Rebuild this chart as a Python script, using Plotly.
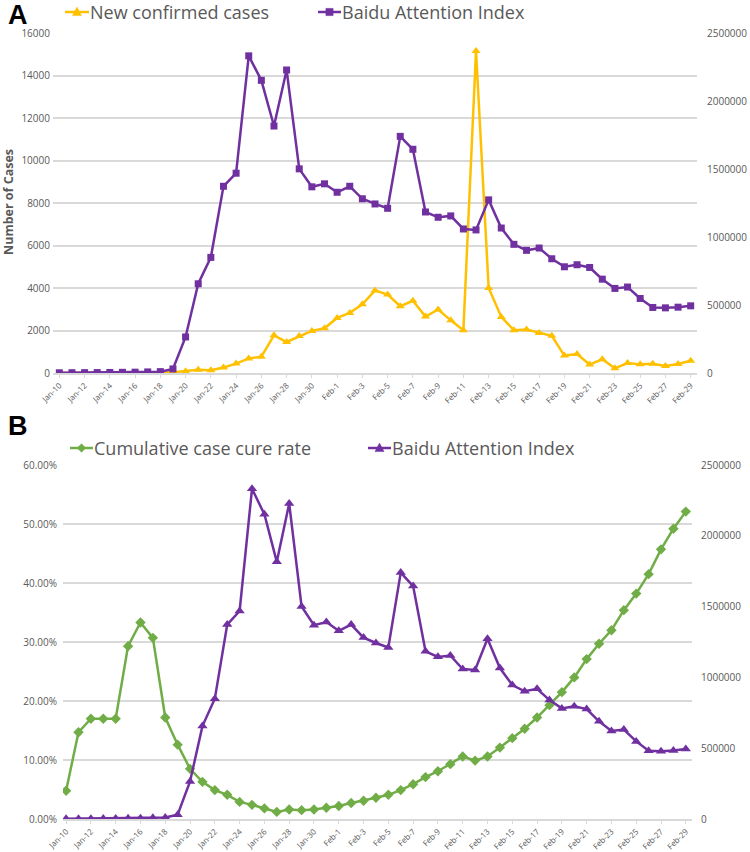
import plotly.graph_objects as go
from plotly.subplots import make_subplots

# ---- categories ----
dates = [f"Jan-{d}" for d in range(10, 32)] + [f"Feb-{d}" for d in range(1, 30)]

# ---- Panel A: new confirmed cases (left axis) ----
new_cases = [0, 0, 0, 0, 0, 0, 4, 17, 30, 40,
             77, 149, 131, 259, 444, 688, 769, 1771, 1459, 1737,
             1982, 2102, 2590, 2829, 3235, 3887, 3694, 3143, 3399, 2656,
             2987, 2478, 2015, 15152, 4000, 2641, 2009, 2048, 1886, 1749,
             820, 889, 397, 648, 220, 470, 406, 433, 327, 427, 573]

# ---- Baidu Attention Index (right axis, both panels) ----
baidu = [1500, 2000, 2500, 3000, 4000, 5000, 6000, 8000, 10000, 30000,
         265000, 656000, 850000, 1373000, 1469000, 2332000, 2152000, 1816000, 2228000, 1501000,
         1369000, 1391000, 1329000, 1373000, 1281000, 1243000, 1211000, 1740000, 1645000, 1184000,
         1145000, 1155000, 1059000, 1052000, 1273000, 1066000, 946000, 902000, 919000, 840000,
         781000, 796000, 776000, 690000, 622000, 632000, 548000, 482000, 479000, 484000, 494000]

# ---- Panel B: cumulative case cure rate (left axis) ----
cure_rate = [0.048, 0.147, 0.170, 0.170, 0.170, 0.293, 0.333, 0.307, 0.172, 0.126,
             0.085, 0.063, 0.049, 0.041, 0.029, 0.024, 0.018, 0.012, 0.016, 0.015,
             0.016, 0.019, 0.022, 0.027, 0.031, 0.036, 0.041, 0.049, 0.059, 0.071,
             0.081, 0.093, 0.106, 0.099, 0.106, 0.121, 0.137, 0.153, 0.172, 0.193,
             0.215, 0.240, 0.271, 0.297, 0.320, 0.354, 0.382, 0.415, 0.457, 0.492, 0.521]

tick_dates = dates[::2]

YELLOW = "#FFC000"
PURPLE = "#7030A0"
GREEN = "#70AD47"
GRID = "#D9D9D9"
TXT = "#595959"
FONT = "Open Sans"

W, H = 750, 852

fig = make_subplots(rows=2, cols=1, specs=[[{"secondary_y": True}], [{"secondary_y": True}]])

fig.add_trace(go.Scatter(x=dates, y=new_cases, name="New confirmed cases", mode="lines+markers",
                         line=dict(color=YELLOW, width=2.5),
                         marker=dict(symbol="triangle-up", size=8, color=YELLOW)),
              row=1, col=1, secondary_y=False)
fig.add_trace(go.Scatter(x=dates, y=baidu, name="Baidu Attention Index", mode="lines+markers",
                         line=dict(color=PURPLE, width=2.5),
                         marker=dict(symbol="square", size=7, color=PURPLE)),
              row=1, col=1, secondary_y=True)
fig.add_trace(go.Scatter(x=dates, y=cure_rate, name="Cumulative case cure rate", mode="lines+markers",
                         line=dict(color=GREEN, width=2.5),
                         marker=dict(symbol="diamond", size=8, color=GREEN)),
              row=2, col=1, secondary_y=False)
fig.add_trace(go.Scatter(x=dates, y=baidu, name="Baidu Attention Index", mode="lines+markers",
                         line=dict(color=PURPLE, width=2.5),
                         marker=dict(symbol="triangle-up", size=9, color=PURPLE)),
              row=2, col=1, secondary_y=True)


def px_x(p):
    return p / W


def px_y(p):
    return 1 - p / H


xA = [px_x(53), px_x(697)]
xB = [px_x(63), px_x(692)]
yA = [px_y(373), px_y(33)]
yB = [px_y(819), px_y(465)]

xcommon = dict(type="category", tickmode="array", tickvals=tick_dates, ticktext=tick_dates,
               tickangle=-45, tickfont=dict(family=FONT, size=8, color=TXT),
               showline=True, linecolor=GRID, linewidth=1.5, ticks="outside", tickcolor=GRID,
               ticklen=3, showgrid=False, zeroline=False, automargin=False)

yfont = dict(family=FONT, size=10, color=TXT)
fig.update_layout(
    xaxis=dict(domain=xA, range=[-0.5, 50.5], **xcommon),
    xaxis2=dict(domain=xB, range=[-0.25, 50.5], **xcommon),
    yaxis=dict(domain=yA, range=[0, 16000], dtick=2000, tickformat="d",
               showgrid=True, gridcolor=GRID, gridwidth=1.5, zeroline=False, showline=False,
               tickfont=yfont, ticks="", automargin=False, ticklabelstandoff=2),
    yaxis2=dict(domain=yA, range=[0, 2500000], dtick=500000, tickformat="d",
                showgrid=False, zeroline=False, showline=False,
                tickfont=yfont, ticks="", automargin=False, ticklabelstandoff=9),
    yaxis3=dict(domain=yB, range=[0, 0.6], dtick=0.1, tickformat=".2%",
                showgrid=True, gridcolor=GRID, gridwidth=1.5, zeroline=False, showline=False,
                tickfont=yfont, ticks="", automargin=False, ticklabelstandoff=5),
    yaxis4=dict(domain=yB, range=[0, 2500000], dtick=500000, tickformat="d",
                showgrid=False, zeroline=False, showline=False,
                tickfont=yfont, ticks="", automargin=False, ticklabelstandoff=8),
)

# ---- hand-drawn legends (line sample + marker glyph + label) ----
shapes = []
annotations = []


def legend_entry(x0, x1, y, color, symbol, label, text_x):
    shapes.append(dict(type="line", xref="paper", yref="paper",
                       x0=px_x(x0), x1=px_x(x1), y0=px_y(y), y1=px_y(y),
                       line=dict(color=color, width=2.5)))
    cx = (x0 + x1) / 2
    if symbol == "triangle":
        s = 4.5
        path = (f"M {px_x(cx - s)} {px_y(y + s * 0.8)} L {px_x(cx + s)} {px_y(y + s * 0.8)} "
                f"L {px_x(cx)} {px_y(y - s * 1.1)} Z")
    elif symbol == "square":
        s = 3.6
        path = (f"M {px_x(cx - s)} {px_y(y - s)} L {px_x(cx + s)} {px_y(y - s)} "
                f"L {px_x(cx + s)} {px_y(y + s)} L {px_x(cx - s)} {px_y(y + s)} Z")
    else:
        s = 4.3
        path = (f"M {px_x(cx - s)} {px_y(y)} L {px_x(cx)} {px_y(y - s)} "
                f"L {px_x(cx + s)} {px_y(y)} L {px_x(cx)} {px_y(y + s)} Z")
    shapes.append(dict(type="path", xref="paper", yref="paper", path=path,
                       fillcolor=color, line=dict(color=color, width=0.5)))
    annotations.append(dict(text=label, x=px_x(text_x), y=px_y(y), xref="paper", yref="paper",
                            xanchor="left", yanchor="middle", showarrow=False,
                            font=dict(family=FONT, size=18, color=TXT)))


legend_entry(65, 89, 12, YELLOW, "triangle", "New confirmed cases", 88)
legend_entry(318, 341, 12, PURPLE, "square", "Baidu Attention Index", 340)
legend_entry(70, 93, 448, GREEN, "diamond", "Cumulative case cure rate", 92)
legend_entry(368, 391, 448, PURPLE, "triangle", "Baidu Attention Index", 390)

annotations += [
    dict(text="<b>A</b>", x=px_x(6), y=px_y(-2), xref="paper", yref="paper", xanchor="left",
         yanchor="top", showarrow=False, font=dict(family="Liberation Sans", size=27, color="black")),
    dict(text="<b>B</b>", x=px_x(6), y=px_y(409), xref="paper", yref="paper", xanchor="left",
         yanchor="top", showarrow=False, font=dict(family="Liberation Sans", size=27, color="black")),
    dict(text="<b>Number of Cases</b>", x=px_x(9), y=px_y(202), xref="paper", yref="paper",
         xanchor="center", yanchor="middle",
         textangle=-90, showarrow=False, font=dict(family=FONT, size=12.5, color=TXT)),
]

fig.update_layout(
    width=W, height=H, margin=dict(l=0, r=0, t=0, b=0),
    plot_bgcolor="white", paper_bgcolor="white", showlegend=False,
    shapes=shapes, annotations=annotations,
)

fig.write_html("out.html", config={"displayModeBar": False},
               post_script="document.body.style.margin='0';")
